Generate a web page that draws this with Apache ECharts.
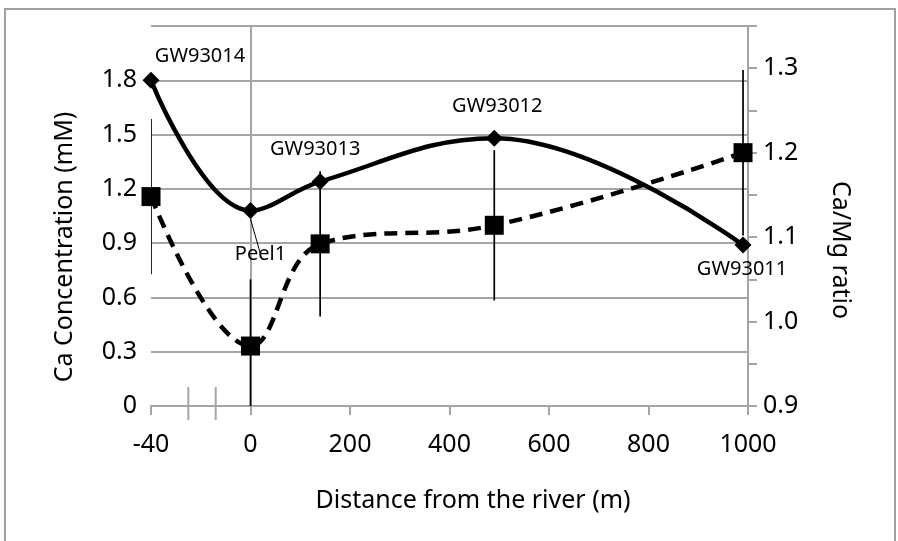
<!DOCTYPE html>
<html>
<head>
<meta charset="utf-8">
<script src="https://cdn.jsdelivr.net/npm/echarts@6/dist/echarts.min.js"></script>
<style>
  html, body { margin: 0; padding: 0; background: #fff; }
  #chart { width: 898px; height: 541px; }
</style>
</head>
<body>
<div id="chart"></div>
<script>
// Sampling wells and measured values
const wells      = ['GW93014', 'Peel1', 'GW93013', 'GW93012', 'GW93011'];
const distances  = [-40, 0, 140, 490, 990];            // m from the river
const caConc     = [1.80, 1.08, 1.24, 1.48, 0.89];     // Ca concentration (mM)
const caMgRatio  = [1.148, 0.971, 1.092, 1.114, 1.200]; // Ca/Mg ratio
const caMgError  = [0.092, 0.079, 0.086, 0.089, 0.098]; // ± error on ratio
const xTicks     = [-40, 0, 200, 400, 600, 800, 1000];

// Broken distance axis: the stretch left of the river (-40 m … 0)
// is drawn as wide as one 200 m step.
const BREAK_SCALE = 5;
const axisPos = d => (d < 0 ? d * BREAK_SCALE : d);
const axisLabelFor = p => (p < 0 ? String(p / BREAK_SCALE) : String(p));
const breakMarks = [-125, -70];  // axis-break ticks, in axis units

const FONT = 'Noto Sans';
const GRAY = '#a5a5a5';

const caData    = distances.map((d, i) => [axisPos(d), caConc[i]]);
const ratioData = distances.map((d, i) => [axisPos(d), caMgRatio[i]]);
const errData   = distances.map((d, i) => [axisPos(d), caMgRatio[i] - caMgError[i], caMgRatio[i] + caMgError[i]]);

// label placement per well
const labelCfg = [
  { position: 'top',    offset: [49, 0] },
  { position: 'bottom', offset: [10, 20] },
  { position: 'top',    offset: [-5, -9] },
  { position: 'top',    offset: [3, -8] },
  { position: 'bottom', offset: [-1, 1] }
];

const chart = echarts.init(document.getElementById('chart'), null, { renderer: 'canvas' });

chart.setOption({
  backgroundColor: '#fff',
  animation: false,
  textStyle: { fontFamily: FONT },
  grid: { left: 151, right: 150, top: 26, bottom: 135 },
  graphic: [{
    type: 'rect',
    shape: { x: 5, y: 9, width: 890, height: 600 },
    style: { fill: 'none', stroke: '#a0a0a0', lineWidth: 2 },
    silent: true, z: -10
  }],
  xAxis: {
    type: 'value',
    min: axisPos(xTicks[0]),
    max: xTicks[xTicks.length - 1],
    interval: 200,
    name: 'Distance from the river (m)',
    nameLocation: 'middle',
    nameGap: 82,
    nameTextStyle: { fontSize: 25, color: '#000', fontFamily: FONT, padding: [0, 0, 0, 47] },
    axisLine: { lineStyle: { color: GRAY, width: 2 } },
    axisTick: { show: true, inside: false, length: 9, lineStyle: { color: GRAY, width: 2 } },
    axisLabel: { fontSize: 25, color: '#000', margin: 26, fontFamily: FONT, formatter: axisLabelFor },
    splitLine: { show: false }
  },
  yAxis: [{
    type: 'value',
    min: 0, max: 2.1, interval: 0.3,
    name: 'Ca Concentration (mM)',
    nameLocation: 'middle',
    nameGap: 74,
    nameTextStyle: { fontSize: 25, color: '#000', fontFamily: FONT, padding: [0, 62, 0, 0] },
    axisLine: { show: true, lineStyle: { color: GRAY, width: 2 } },
    axisTick: { show: true, length: 9, lineStyle: { color: GRAY, width: 2 } },
    axisLabel: {
      fontSize: 25, color: '#000', margin: 14, fontFamily: FONT,
      formatter: v => (v > 2.0 ? '' : String(+v.toFixed(1)))
    },
    splitLine: { show: true, lineStyle: { color: GRAY, width: 2 } }
  }, {
    type: 'value',
    min: 0.9, max: 1.35, interval: 0.05,
    name: 'Ca/Mg ratio',
    nameLocation: 'middle',
    nameRotate: -90,
    nameGap: 80,
    nameTextStyle: { fontSize: 25, color: '#000', fontFamily: FONT, padding: [0, 0, 0, 68] },
    axisLine: { show: true, lineStyle: { color: GRAY, width: 2 } },
    axisTick: { show: true, length: 9, lineStyle: { color: GRAY, width: 2 } },
    axisLabel: {
      fontSize: 25, color: '#000', margin: 15, fontFamily: FONT,
      formatter: v => {
        const k = Math.round((v - 0.9) / 0.05);
        return (k % 2 === 0 && v < 1.31) ? v.toFixed(1) : '';
      }
    },
    splitLine: { show: false }
  }],
  series: [
    {
      // axis break ticks on the distance axis
      type: 'custom',
      xAxisIndex: 0, yAxisIndex: 0,
      silent: true, z: 1, clip: false,
      data: breakMarks.map(p => [p, 0]),
      renderItem: (params, api) => {
        const pt = api.coord([api.value(0), api.value(1)]);
        return {
          type: 'line',
          shape: { x1: pt[0], y1: pt[1] - 19, x2: pt[0], y2: pt[1] + 14 },
          style: { stroke: GRAY, lineWidth: 2 }
        };
      }
    },
    {
      // ± error bars on the Ca/Mg ratio
      type: 'custom',
      xAxisIndex: 0, yAxisIndex: 1,
      silent: true, z: 2, clip: true,
      data: errData,
      renderItem: (params, api) => {
        const lo = api.coord([api.value(0), api.value(1)]);
        const hi = api.coord([api.value(0), api.value(2)]);
        return {
          type: 'line',
          shape: { x1: lo[0], y1: lo[1], x2: hi[0], y2: hi[1] },
          style: { stroke: '#000', lineWidth: 1.7 }
        };
      }
    },
    {
      name: 'Ca/Mg ratio',
      type: 'line',
      yAxisIndex: 1,
      data: ratioData,
      smooth: 0.4,
      symbol: 'rect',
      symbolSize: 19,
      z: 3,
      itemStyle: { color: '#000' },
      lineStyle: { color: '#000', width: 4.5, type: [13, 8] }
    },
    {
      name: 'Ca concentration',
      type: 'line',
      yAxisIndex: 0,
      data: caData.map((p, i) => ({
        value: p,
        label: {
          show: true,
          formatter: wells[i],
          position: labelCfg[i].position,
          offset: labelCfg[i].offset,
          fontSize: 20, color: '#000', fontFamily: FONT
        },
        labelLine: i === 1 ? { show: true, lineStyle: { color: '#000', width: 1 } } : undefined
      })),
      smooth: 0.4,
      symbol: 'diamond',
      symbolSize: 17,
      z: 4,
      itemStyle: { color: '#000' },
      lineStyle: { color: '#000', width: 4.5 }
    }
  ]
});
</script>
</body>
</html>
